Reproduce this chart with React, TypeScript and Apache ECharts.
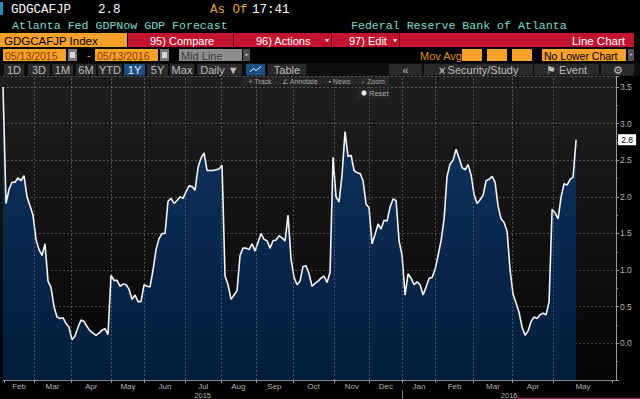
import React, { useEffect, useRef } from "react";
import * as echarts from "echarts";

// GDPNow forecast observations (percent), one per observation step
const values: number[] = [
  3.5, 1.91, 2.1, 2.2, 2.2, 2.26, 2.22, 2.29, 2.0, 1.88,
  1.75, 1.42, 1.28, 1.2, 1.36, 0.85, 0.76, 0.5, 0.36, 0.34,
  0.35, 0.27, 0.22, 0.05, 0.1, 0.22, 0.32, 0.3, 0.23, 0.17,
  0.14, 0.11, 0.14, 0.18, 0.2, 0.12, 0.93, 0.86, 0.86, 0.78,
  0.81, 0.8, 0.74, 0.6, 0.66, 0.57, 0.57, 0.8, 0.78, 0.77,
  1.0, 1.28, 1.43, 1.5, 1.5, 1.94, 1.98, 1.91, 1.95, 2.0,
  1.98, 2.07, 2.15, 2.14, 2.09, 2.4, 2.53, 2.6, 2.36, 2.36,
  2.36, 2.37, 2.38, 2.43, 0.92, 0.8, 0.6, 0.66, 0.72, 1.2,
  1.3, 1.3, 1.28, 1.36, 1.26, 1.38, 1.5, 1.42, 1.4, 1.3,
  1.4, 1.41, 1.47, 1.44, 1.4, 1.75, 1.15, 0.9, 0.8, 0.85,
  1.05, 1.06, 0.95, 0.78, 0.82, 0.85, 0.89, 0.92, 0.83, 0.97,
  2.54, 2.0, 1.93, 2.3, 2.89, 2.55, 2.57, 2.36, 2.33, 2.32,
  2.22, 1.9, 1.85, 1.36, 1.49, 1.63, 1.56, 1.68, 1.67, 1.86,
  1.97, 1.95, 1.4, 1.2, 0.66, 0.95, 0.89, 0.8, 0.84, 0.8,
  0.66, 0.77, 0.89, 0.9, 1.01, 1.2, 1.4, 1.7, 2.28, 2.45,
  2.5, 2.65, 2.53, 2.4, 2.37, 2.44, 2.3, 2.03, 1.91, 1.96,
  2.02, 2.22, 2.24, 2.28, 2.2, 1.87, 1.7, 1.65, 1.53, 1.0,
  0.67, 0.55, 0.42, 0.22, 0.11, 0.17, 0.3, 0.36, 0.34, 0.39,
  0.41, 0.39, 0.57, 1.83, 1.78, 1.7, 2.0, 2.18, 2.16, 2.24,
  2.27, 2.78,
];

// month boundaries, in observation-step units
const monthStarts: number[] = [
  0.3, 10.4, 22.6, 36.2, 47.1, 60.9, 72.6, 84.3, 96.6, 110.4, 122.1,
  133.1, 144.2, 156.8, 169.8, 183.4, 203.2,
];
const monthNames: string[] = [
  "Feb", "Mar", "Apr", "May", "Jun", "Jul", "Aug", "Sep", "Oct", "Nov", "Dec",
  "Jan", "Feb", "Mar", "Apr", "May",
];
const yearNames: string[] = ["2015", "2016"];
const yearStartMonth = 11; // index in monthStarts where 2016 begins
const lastLabel = "2.8";

const X_MIN = 0;
const X_MAX = 204.3;

const MONO = '"Liberation Mono", "DejaVu Sans Mono", monospace';
const SANS = '"Liberation Sans", Arial, sans-serif';
const ORANGE = "#f8a12c";
const RED = "#c21431";
const TEAL = "#79dccb";
const GRID = "rgba(160,160,160,0.42)";

function rect(x: number, y: number, w: number, h: number, fill: any, z = 10): any {
  return { type: "rect", shape: { x, y, width: w, height: h }, style: { fill }, z, silent: true };
}
function text(
  t: string, x: number, y: number, fill: string, font: string, align = "left", z = 11
): any {
  return {
    type: "text", x, y, z, silent: true,
    style: { text: t, fill, font, align, verticalAlign: "middle" },
  };
}
function tri(cx: number, cy: number, fill: string, s = 2.5): any {
  return {
    type: "polygon", z: 11, silent: true,
    shape: { points: [[cx - s, cy - s * 0.6], [cx + s, cy - s * 0.6], [cx, cy + s * 0.7]] },
    style: { fill },
  };
}

export default function App() {
  const ref = useRef<HTMLDivElement>(null);
  useEffect(() => {
    document.body.style.margin = "0";
    document.body.style.background = "#000";
    const chart = echarts.init(ref.current!, null, { renderer: "svg" });

    const monthMids = monthNames.map((_, i) => (monthStarts[i] + monthStarts[i + 1]) / 2);
    const yearSplit = monthStarts[yearStartMonth];
    const yearMids = [(X_MIN + yearSplit) / 2, (yearSplit + X_MAX) / 2];
    const lookup = (v: number, pos: number[], names: string[]) => {
      for (let i = 0; i < pos.length; i++) if (Math.abs(pos[i] - v) < 0.01) return names[i];
      return "";
    };

    const btnFont = `11px ${SANS}`;
    const g: any[] = [];
    // plot background panel (behind axes and series)
    g.push(rect(0, 76, 616, 304, new echarts.graphic.LinearGradient(0, 0, 0, 1, [
      { offset: 0, color: "#1f1f22" },
      { offset: 1, color: "#050507" },
    ]), -10));
    // row 1
    g.push(rect(0, 2, 3, 13, "#1d8ec0"));
    g.push(text("GDGCAFJP", 11, 9.5, "#ffffff", `12.5px ${MONO}`));
    g.push(text("2.8", 98, 9.5, "#ffffff", `12.5px ${MONO}`));
    g.push(text("As Of", 210, 9.5, "#e8a23a", `12.5px ${MONO}`));
    g.push(text("17:41", 252, 9.5, "#ffffff", `12.5px ${MONO}`));
    // row 2
    g.push(text("Atlanta Fed GDPNow GDP Forecast", 12, 25, TEAL, `11.6px ${MONO}`));
    g.push(text("Federal Reserve Bank of Atlanta", 351, 25, TEAL, `11.6px ${MONO}`));
    // row 3
    g.push(rect(0, 33, 127, 14, ORANGE));
    g.push(text("GDGCAFJP Index", 4, 40.5, "#000000", `11.5px ${SANS}`));
    g.push(rect(128, 33, 506, 14, RED));
    [233, 331, 399].forEach((x) => g.push(rect(x, 33, 1, 14, "#6a0815", 11)));
    g.push(text("95) Compare", 150, 40.5, "#ffffff", `11px ${SANS}`));
    g.push(text("96) Actions", 256, 40.5, "#ffffff", `11px ${SANS}`));
    g.push(tri(327, 40.5, "#ffffff", 2.2));
    g.push(text("97) Edit", 349, 40.5, "#ffffff", `11px ${SANS}`));
    g.push(tri(395, 40.5, "#ffffff", 2.2));
    g.push(text("Line Chart", 625, 40.5, "#ffffff", `11.5px ${SANS}`, "right"));
    // row 4
    g.push(rect(3, 49, 63, 12, ORANGE));
    g.push(text("05/13/2015", 5, 55.5, "#8a3d00", `10.5px ${SANS}`));
    g.push(rect(68, 49, 9, 12, "#7a7a7a"));
    g.push(rect(70, 52, 5, 6, "#d8d8d8", 11));
    g.push(text("-", 87, 55, ORANGE, `11px ${SANS}`));
    g.push(rect(95, 49, 63, 12, ORANGE));
    g.push(text("05/13/2016", 97, 55.5, "#8a3d00", `10.5px ${SANS}`));
    g.push(rect(160, 49, 9, 12, "#7a7a7a"));
    g.push(rect(162, 52, 5, 6, "#d8d8d8", 11));
    g.push(rect(179, 49, 63, 12, "#8e8e8e"));
    g.push(text("Mid Line", 181, 55.5, "#3c3c3c", `11px ${SANS}`));
    g.push(rect(243, 49, 7, 12, "#4e4e4e"));
    g.push(tri(246.5, 55, "#bbbbbb", 1.8));
    g.push(text("Mov Avg", 420, 55.5, "#e0921e", `11px ${SANS}`));
    [462, 487, 512].forEach((x) => g.push(rect(x, 49, 20, 12, ORANGE)));
    g.push(rect(542, 49, 84, 12, ORANGE));
    g.push(text("No Lower Chart", 544, 55.5, "#000000", `10.5px ${SANS}`));
    g.push(rect(628, 49, 6, 12, "#555555"));
    g.push(tri(631, 55, "#bbbbbb", 1.6));
    // row 5 buttons
    const btns: [number, number, string, boolean][] = [
      [4, 20, "1D", false], [28, 22, "3D", false], [52, 21, "1M", false], [76, 20, "6M", false],
      [98, 24, "YTD", false], [124, 21, "1Y", true], [147, 21, "5Y", false], [170, 24, "Max", false],
      [197, 45, "Daily ▼", false], [268, 38, "Table", false], [389, 33, "«", false],
      [424, 109, "⩙ Security/Study", false], [534, 65, "⚑ Event", false], [601, 33, "⚙", false],
    ];
    g.push(rect(0, 63, 640, 13, "#0e0e0e", 9));
    btns.forEach(([x, w, t, a]) => {
      g.push(rect(x, 64, w, 11.5, a ? "#1d4f82" : "#2a2a2a"));
      g.push(text(t, x + w / 2, 70, a ? "#dfe9f5" : "#bdbdbd", btnFont, "center"));
    });
    g.push(rect(246, 64, 19, 11.5, "#1d4f82"));
    g.push({
      type: "polyline", z: 12, silent: true,
      shape: { points: [[250, 72], [253, 68.5], [256, 70.5], [261, 66.5]] },
      style: { stroke: "#dfe9f5", lineWidth: 1, fill: "none" },
    });
    // row 6 mini toolbar (over the plot)
    const mini: [number, number, string][] = [
      [243, 34, "+ Track"], [278, 44, "∠ Annotate"], [324, 31, "▪ News"], [357, 32, "⌕ Zoom"],
    ];
    mini.forEach(([x, w, t]) => {
      g.push(rect(x, 77, w, 8.5, "#262626", 100));
      g.push(text(t, x + w / 2, 81.3, "#a8a8a8", `7px ${SANS}`, "center", 101));
    });
    g.push(rect(357, 88, 33, 10, "#262626", 100));
    g.push({ type: "circle", z: 101, silent: true, shape: { cx: 364, cy: 93, r: 2.6 }, style: { fill: "#e8e8e8" } });
    g.push(text("Reset", 369, 93, "#a8a8a8", `7.5px ${SANS}`, "left", 101));
    // bottom magenta strip
    g.push(rect(517, 397.8, 123, 1.2, "#a3195b", 50));

    chart.setOption({
      animation: false,
      backgroundColor: "#000000",
      graphic: { elements: g },
      grid: { left: 3, right: 24, top: 76, bottom: 19 },
      xAxis: [
        {
          type: "value", min: X_MIN, max: X_MAX, position: "bottom",
          axisLine: { show: true, onZero: false, lineStyle: { color: "#9a9a9a", type: [1, 1] } },
          axisTick: { show: true, customValues: monthStarts, length: 3, lineStyle: { color: "#9a9a9a" } },
          axisLabel: {
            customValues: monthMids, color: "#b2b2b2", fontSize: 8, fontFamily: SANS, margin: 2,
            formatter: (v: number) => lookup(v, monthMids, monthNames),
          },
          splitLine: { show: false },
        },
        {
          type: "value", min: X_MIN, max: X_MAX, position: "bottom", offset: 10,
          axisLine: { show: false, onZero: false },
          axisTick: { show: true, customValues: [yearSplit], length: 9, lineStyle: { color: "#7a7a7a" } },
          axisLabel: {
            customValues: yearMids, color: "#b2b2b2", fontSize: 7.5, fontFamily: SANS, margin: 1,
            formatter: (v: number) => lookup(v, yearMids, yearNames),
          },
          splitLine: { show: false },
        },
      ],
      yAxis: {
        type: "value", position: "right", min: -0.5, max: 3.65, interval: 0.5,
        axisLine: { show: true, onZero: false, lineStyle: { color: "#9a9a9a" } },
        axisTick: { show: true, length: 3, lineStyle: { color: "#9a9a9a" } },
        minorTick: { show: true, splitNumber: 2, length: 2, lineStyle: { color: "#8a8a8a" } },
        axisLabel: {
          color: "#b4b4b4", fontSize: 8.5, fontFamily: SANS, margin: 4, showMaxLabel: false,
          formatter: (v: number) => (v < 0 || v > 3.6 ? "" : v.toFixed(1)),
        },
        splitLine: { show: true, lineStyle: { color: GRID, type: [2, 2], width: 1 } },
      },
      series: [
        {
          type: "line",
          xAxisIndex: 0,
          data: values.map((v, i) => [i, v]),
          symbol: "none",
          lineStyle: { color: "#f4f4f4", width: 1.6 },
          areaStyle: {
            origin: "start",
            color: new echarts.graphic.LinearGradient(0, 0, 0, 1, [
              { offset: 0, color: "#113460" },
              { offset: 1, color: "#021d3c" },
            ]),
            opacity: 1,
          },
          markLine: {
            silent: true, symbol: ["none", "none"], label: { show: false },
            lineStyle: { color: GRID, type: [2, 2], width: 1 },
            data: monthStarts.slice(1, monthStarts.length - 1).map((v) => ({ xAxis: v })),
          },
          markPoint: {
            silent: true,
            symbol: "rect",
            symbolSize: [18, 11],
            symbolOffset: [51, 0],
            itemStyle: { color: "#ffffff" },
            label: { show: true, color: "#000000", fontSize: 8.5, fontFamily: SANS, formatter: lastLabel },
            data: [{ coord: [values.length - 1, values[values.length - 1]] }],
          },
        },
      ],
    });
    return () => chart.dispose();
  }, []);
  return <div ref={ref} style={{ width: 640, height: 399, position: "absolute", left: 0, top: 0 }} />;
}
